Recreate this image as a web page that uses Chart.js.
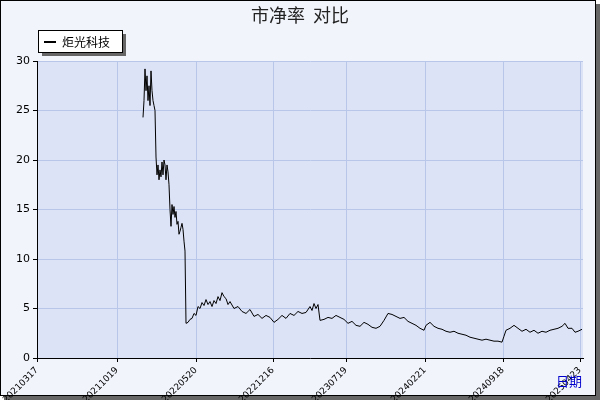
<!DOCTYPE html><html><head><meta charset="utf-8">
<script src="https://cdn.jsdelivr.net/npm/chart.js@4"></script>
<style>body{margin:0;background:#fff}#w{width:600px;height:400px;position:relative}</style></head><body><div id="w"><canvas id="c" width="600" height="400"></canvas></div>
<script>
const seriesName='炬光科技';
const tickLabels=['20210317','20211019','20220520','20221216','20230719','20240221','20240918','20250423'];
const tickPos=[37,117,196,273,346,425,503,580];
const xs=[143,144,145,146,147,148,149,150,151,152,153,154,155,156,157,158,159,160,161,162,163,164,165,166,167,168,169,170,171,172,173,174,175,176,177,178,179,180,181,182,183,184,185,186,188,190,192,194,196,198,200,202,204,206,208,210,212,214,216,218,220,222,224,226,228,230,234,238,242,246,250,254,258,262,266,270,274,278,282,286,290,294,298,302,306,310,312,314,316,318,320,324,328,332,336,340,344,348,352,356,360,364,368,372,376,380,384,388,392,396,400,404,408,412,416,420,424,426,430,434,438,442,446,450,454,458,462,466,470,474,478,482,486,490,494,498,502,504,506,510,514,518,522,526,530,534,538,542,546,550,554,558,562,565,568,572,575,578,582];
const vals=[24.3,26,29.2,27,28.5,26,27.5,25.5,29,27,26,25.5,25,20.3,18.5,19.5,18,19,18.3,19.8,18.5,20,19.5,18,19.5,18.8,17.5,15,13.3,15.5,14.5,15.3,14.2,14.8,13.5,13.8,12.5,12.8,13.2,13.6,13,11.8,10.8,3.5,3.6,3.9,4.0,4.5,4.3,5.2,5.0,5.6,5.3,5.9,5.4,5.7,5.2,5.8,5.5,6.2,5.8,6.6,6.2,6.0,5.4,5.7,5.0,5.2,4.7,4.5,4.9,4.2,4.4,4.0,4.3,4.1,3.6,3.9,4.3,4.0,4.5,4.3,4.7,4.5,4.6,5.2,4.8,5.5,5.0,5.4,3.8,3.9,4.1,4.0,4.3,4.1,3.9,3.5,3.7,3.3,3.2,3.6,3.4,3.1,3.0,3.2,3.8,4.5,4.4,4.2,4.0,4.1,3.7,3.5,3.3,3.0,2.8,3.3,3.6,3.2,3.0,2.9,2.7,2.6,2.7,2.5,2.4,2.3,2.1,2.0,1.9,1.8,1.9,1.8,1.7,1.7,1.6,2.2,2.8,3.0,3.3,3.0,2.7,2.9,2.6,2.8,2.5,2.7,2.6,2.8,2.9,3.0,3.2,3.5,3.0,3.0,2.6,2.7,2.9];
const deco={id:'deco',beforeDraw(ch){const c=ch.ctx,a=ch.chartArea;c.save();
c.fillStyle='#666';c.fillRect(4,4,596,396);
c.fillStyle='#f2f4fc';c.fillRect(0,0,596,396);c.strokeStyle='#000';c.lineWidth=1;c.strokeRect(0.5,0.5,595,395);
c.fillStyle='#dce3f6';c.fillRect(a.left,a.top,a.right-a.left,a.bottom-a.top);c.restore();},
afterDraw(ch){const c=ch.ctx;c.save();c.fillStyle='#222';c.font='18px "Noto Sans CJK SC"';c.textAlign='center';c.textBaseline='middle';c.fillText('市净率  对比',300,15);
c.fillStyle='#666';c.fillRect(42,34,84,22);c.fillStyle='#fff';c.fillRect(38,30,84,22);c.strokeStyle='#000';c.strokeRect(38.5,30.5,84,22);
c.lineWidth=2;c.beginPath();c.moveTo(44,42);c.lineTo(56,42);c.stroke();c.fillStyle='#000';c.font='12px "Noto Sans CJK SC"';c.textAlign='left';c.fillText(seriesName,62,42);
c.fillStyle='#00c';c.font='13px "Noto Sans CJK SC"';c.fillText('日期',556,381);c.restore();}};
new Chart(document.getElementById('c'),{type:'line',data:{datasets:[{label:seriesName,data:xs.map((x,i)=>({x,y:vals[i]})),borderColor:'#000',borderWidth:1,pointRadius:0,tension:0}]},
options:{responsive:false,animation:false,layout:{padding:{left:0,right:17,top:61,bottom:0}},plugins:{legend:{display:false},tooltip:{enabled:false}},
scales:{x:{type:'linear',min:37,max:583,afterFit(s){s.height=42},afterBuildTicks(s){s.ticks=tickPos.map(v=>({value:v}))},
ticks:{autoSkip:false,maxRotation:45,minRotation:45,color:'#000',font:{size:9,family:'DejaVu Sans'},callback:(v)=>tickLabels[tickPos.indexOf(v)]},
grid:{color:'#b8c6ea',tickColor:'#000',tickLength:4},border:{color:'#000',width:1}},
y:{min:0,max:30,afterFit(s){s.width=37},ticks:{stepSize:5,color:'#000',font:{size:11,family:'DejaVu Sans'}},grid:{color:'#b8c6ea',tickColor:'#000',tickLength:4},border:{color:'#000'}}}},plugins:[deco]});
</script></body></html>
